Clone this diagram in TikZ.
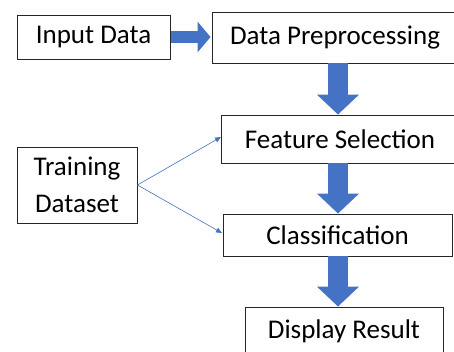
\documentclass[tikz,border=0pt]{standalone}
\usepackage{fontspec}
\setmainfont{Carlito}
\usetikzlibrary{arrows.meta}
\definecolor{arrblue}{HTML}{4472C4}
\tikzset{
  box/.style={draw=black!85, line width=0.9pt, inner sep=0pt, font=\fontsize{27}{33}\selectfont, align=center},
  fatv/.style={arrblue, line width=20pt, -{Triangle[length=20pt,width=41pt]}},
  fath/.style={arrblue, line width=12pt, -{Triangle[length=13pt,width=30pt]}},
  thin/.style={arrblue, line width=0.6pt, -{Triangle[length=6pt,width=5pt]}}
}
\begin{document}
\begin{tikzpicture}[x=1pt,y=-1pt]
\useasboundingbox (0,0) rectangle (454,351);
\clip (0,0) rectangle (454,351);
% boxes (pixel coordinates, y downwards)
\node[box, minimum width=153pt, minimum height=44pt] (input) at (93.5,37) {Input Data};
\node[box, minimum width=246pt, minimum height=51pt] (prep) at (335,37.5) {Data Preprocessing};
\node[box, minimum width=238pt, minimum height=48pt] (feat) at (340,139) {Feature Selection};
\node[box, minimum width=120pt, minimum height=76pt] (train) at (77,185) {Training\\[4pt]Dataset};
\node[box, minimum width=229pt, minimum height=42pt] (cls) at (337.5,235) {Classification};
\node[box, minimum width=198pt, minimum height=48pt] (disp) at (344,331) {Display Result};
% fat arrows
\coordinate (a1s) at (input.east);
\coordinate (a1e) at (input.east -| prep.west);
\draw[fath] ([xshift=0.5pt]a1s) -- ([xshift=-1pt]a1e);
\coordinate (p1) at (338,0);
\draw[fatv] (prep.south -| p1) -- (feat.north -| p1);
\draw[fatv] (feat.south -| p1) -- (cls.north -| p1);
\draw[fatv] (cls.south -| p1) -- (disp.north -| p1);
% thin arrows
\coordinate (t1) at (221,137);
\coordinate (t2) at (222,233);
\draw[thin] (train.east) -- (t1);
\draw[thin] (train.east) -- (t2);
\end{tikzpicture}
\end{document}
